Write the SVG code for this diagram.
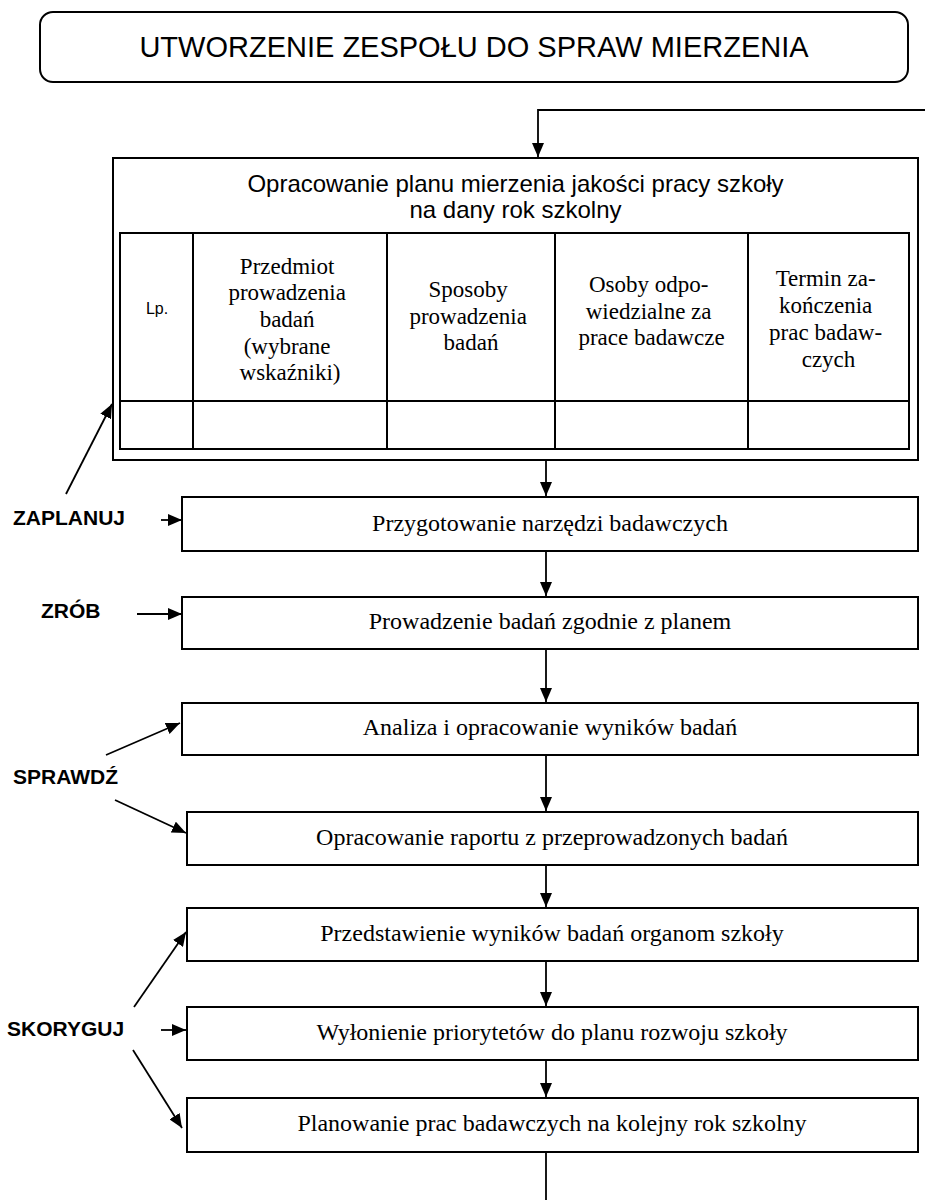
<svg xmlns="http://www.w3.org/2000/svg" width="925" height="1200" viewBox="0 0 925 1200">
  <style>
    .box { fill: #fff; stroke: #000; stroke-width: 2; }
    .grid { fill: none; stroke: #000; stroke-width: 2; }
    .line { fill: none; stroke: #000; stroke-width: 1.8; }
    .sans { font-family: "Liberation Sans", Arial, sans-serif; fill: #000; }
    .serif { font-family: "Liberation Serif", "Times New Roman", serif; fill: #000; }
    .step { font-size: 24px; text-anchor: middle; }
    .head { font-size: 23px; text-anchor: middle; }
    .phase { font-size: 21px; font-weight: bold; }
  </style>
  <defs>
    <marker id="arrow" markerUnits="userSpaceOnUse" markerWidth="15" markerHeight="12" refX="14" refY="6" orient="auto">
      <path d="M0,0 L14,6 L0,12 Z" fill="#000"/>
    </marker>
  </defs>

  <rect width="925" height="1200" fill="#fff"/>

  <!-- team formation header -->
  <g id="team">
    <rect class="box" x="40" y="12" width="868" height="70" rx="13" ry="13"/>
    <text class="sans" x="474" y="57" font-size="29" text-anchor="middle">UTWORZENIE ZESPOŁU DO SPRAW MIERZENIA</text>
  </g>

  <!-- annual measurement plan with table -->
  <g id="plan">
    <rect class="box" x="113" y="158" width="805" height="302"/>
    <text class="sans" x="515.5" y="192" font-size="24" text-anchor="middle">Opracowanie planu mierzenia jakości pracy szkoły</text>
    <text class="sans" x="515.5" y="218" font-size="24" text-anchor="middle">na dany rok szkolny</text>
    <rect class="grid" x="120" y="233" width="789" height="216"/>
    <path class="grid" d="M120,401 H909 M193,233 V449 M387,233 V449 M555,233 V449 M748,233 V449"/>
    <text class="sans" x="157" y="314" font-size="16" text-anchor="middle">Lp.</text>
    <text class="serif head" x="290">
      <tspan x="290" y="274">Przedmiot</tspan>
      <tspan x="290" y="300">prowadzenia</tspan>
      <tspan x="290" y="327">badań</tspan>
      <tspan x="290" y="354">(wybrane</tspan>
      <tspan x="290" y="380">wskaźniki)</tspan>
    </text>
    <text class="serif head" x="471">
      <tspan x="471" y="297">Sposoby</tspan>
      <tspan x="471" y="324">prowadzenia</tspan>
      <tspan x="471" y="350">badań</tspan>
    </text>
    <text class="serif head" x="651.5">
      <tspan x="651.5" y="292">Osoby odpo-</tspan>
      <tspan x="651.5" y="319">wiedzialne za</tspan>
      <tspan x="651.5" y="345">prace badawcze</tspan>
    </text>
    <text class="serif head" x="828.5">
      <tspan x="828.5" y="286">Termin za-</tspan>
      <tspan x="828.5" y="313">kończenia</tspan>
      <tspan x="828.5" y="340">prac badaw-</tspan>
      <tspan x="828.5" y="367">czych</tspan>
    </text>
  </g>

  <g id="tools">
    <rect class="box" x="182" y="497" width="736" height="54"/>
    <text class="serif step" x="550" y="531">Przygotowanie narzędzi badawczych</text>
  </g>
  <g id="research">
    <rect class="box" x="182" y="597" width="736" height="52"/>
    <text class="serif step" x="550" y="629">Prowadzenie badań zgodnie z planem</text>
  </g>
  <g id="analysis">
    <rect class="box" x="182" y="703" width="736" height="52"/>
    <text class="serif step" x="550" y="735">Analiza i opracowanie wyników badań</text>
  </g>
  <g id="report">
    <rect class="box" x="187" y="812" width="731" height="53"/>
    <text class="serif step" x="552" y="845">Opracowanie raportu z przeprowadzonych badań</text>
  </g>
  <g id="presentation">
    <rect class="box" x="187" y="908" width="731" height="53"/>
    <text class="serif step" x="552" y="941">Przedstawienie wyników badań organom szkoły</text>
  </g>
  <g id="priorities">
    <rect class="box" x="187" y="1007" width="731" height="53"/>
    <text class="serif step" x="552" y="1040">Wyłonienie priorytetów do planu rozwoju szkoły</text>
  </g>
  <g id="nextplan">
    <rect class="box" x="187" y="1098" width="731" height="54"/>
    <text class="serif step" x="552" y="1131">Planowanie prac badawczych na kolejny rok szkolny</text>
  </g>

  <!-- PDCA phase labels -->
  <g id="phase-plan"><text class="sans phase" x="13" y="525">ZAPLANUJ</text></g>
  <g id="phase-do"><text class="sans phase" x="41" y="618">ZRÓB</text></g>
  <g id="phase-check"><text class="sans phase" x="13" y="784">SPRAWDŹ</text></g>
  <g id="phase-act"><text class="sans phase" x="7" y="1036">SKORYGUJ</text></g>

  <g id="connectors">
    <!-- main flow -->
    <path class="line" d="M925,110 H538 V157" marker-end="url(#arrow)"/>
    <path class="line" d="M546,460 V496" marker-end="url(#arrow)"/>
    <path class="line" d="M546,551 V596" marker-end="url(#arrow)"/>
    <path class="line" d="M546,649 V702" marker-end="url(#arrow)"/>
    <path class="line" d="M546,755 V811" marker-end="url(#arrow)"/>
    <path class="line" d="M546,865 V907" marker-end="url(#arrow)"/>
    <path class="line" d="M546,961 V1006" marker-end="url(#arrow)"/>
    <path class="line" d="M546,1060 V1097" marker-end="url(#arrow)"/>
    <path class="line" d="M546,1152 V1200"/>
    <!-- phase pointers -->
    <path class="line" d="M66,494 L112,404" marker-end="url(#arrow)"/>
    <path class="line" d="M161,520 H182" marker-end="url(#arrow)"/>
    <path class="line" d="M137,614 H182" marker-end="url(#arrow)"/>
    <path class="line" d="M106,755 L180,723" marker-end="url(#arrow)"/>
    <path class="line" d="M115,800 L186,833" marker-end="url(#arrow)"/>
    <path class="line" d="M134,1007 L186,932" marker-end="url(#arrow)"/>
    <path class="line" d="M161,1030 H186" marker-end="url(#arrow)"/>
    <path class="line" d="M133,1050 L182,1128" marker-end="url(#arrow)"/>
  </g>
</svg>
